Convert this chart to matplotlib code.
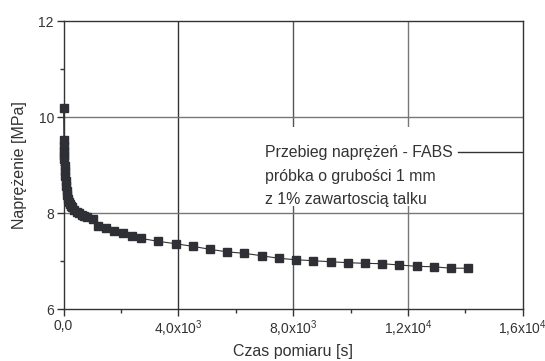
import matplotlib
matplotlib.use('Agg')
import matplotlib.pyplot as plt
from matplotlib.patches import Rectangle
from matplotlib.ticker import MultipleLocator

plt.rcParams['font.family'] = ['Liberation Sans', 'DejaVu Sans']
plt.rcParams['mathtext.fontset'] = 'custom'
plt.rcParams['mathtext.rm'] = 'Liberation Sans'
plt.rcParams['mathtext.default'] = 'regular'

# czas pomiaru [s] i naprezenie [MPa]
czas = [0, 10, 15, 20, 25, 30, 40, 50, 60, 75, 90, 110, 130, 155, 180,
        210, 245, 280, 370, 460, 545, 630, 720, 805, 1010, 1190, 1470,
        1770, 2080, 2390, 2700, 3300, 3900, 4500, 5100, 5700, 6300, 6900,
        7500, 8100, 8700, 9300, 9900, 10500, 11100, 11700, 12300, 12900,
        13500, 14100]
naprezenie = [10.18, 9.52, 9.40, 9.30, 9.20, 9.12, 8.98, 8.87, 8.78, 8.66,
              8.56, 8.46, 8.38, 8.30, 8.23, 8.18, 8.15, 8.12, 8.07, 8.03,
              7.99, 7.96, 7.94, 7.92, 7.87, 7.735, 7.69, 7.63, 7.58, 7.53,
              7.47, 7.41, 7.36, 7.306, 7.244, 7.19, 7.16, 7.11, 7.056, 7.027,
              7.006, 6.985, 6.965, 6.952, 6.944, 6.917, 6.89, 6.88, 6.85,
              6.85]

x_ticks = [0, 4000, 8000, 12000, 16000]
x_labels = ['0,0', r'4,0x$10^{3}$', r'8,0x$10^{3}$', r'1,2x$10^{4}$',
            r'1,6x$10^{4}$']
y_ticks = [6, 8, 10, 12]
opis = ['Przebieg naprężeń - FABS', 'próbka o grubości 1 mm',
        'z 1% zawartoscią talku']

fig = plt.figure(figsize=(5.45, 3.61), dpi=100)
ax = fig.add_axes([0.1167, 0.144, 0.8426, 0.7978])

txt = '#333333'
for xv, c in zip([4000, 8000, 12000], ['#333333', '#555555', '#777777']):
    ax.axvline(xv, color=c, lw=1.0, zorder=1)
for yv in [8, 10]:
    ax.axhline(yv, color='#777777', lw=1.0, zorder=1)

# biale tlo pod opisem
ax.add_patch(Rectangle((6750, 8.15), 9250, 1.64, facecolor='white',
                       edgecolor='none', zorder=2))

ax.plot(czas, naprezenie, color='#333333', lw=0.8, marker='s', ms=5.3,
        mfc='#2f2f36', mec='#2f2f36', zorder=4, clip_on=False)

ax.set_xlim(0, 16000)
ax.set_ylim(6, 12)
ax.set_xticks(x_ticks)
ax.set_xticklabels(x_labels)
ax.set_yticks(y_ticks)
ax.xaxis.set_minor_locator(MultipleLocator(2000))
ax.yaxis.set_minor_locator(MultipleLocator(1))
ax.tick_params(which='major', direction='out', length=5, width=1,
               colors='#333333', labelsize=10, pad=2)
ax.tick_params(which='minor', direction='out', length=3, width=1,
               colors='#333333')
for sp in ax.spines.values():
    sp.set_color('#333333')
    sp.set_linewidth(1.0)

ax.set_xlabel('Czas pomiaru [s]', fontsize=11.5, color=txt, labelpad=3)
ax.set_ylabel('Naprężenie [MPa]', fontsize=11.5, color=txt, labelpad=8)

ax.text(7020, 9.27, opis[0], fontsize=11.4, color=txt, ha='left',
        va='center', zorder=5)
ax.plot([13750, 16000], [9.27, 9.27], color='#333333', lw=1.0, zorder=5)
ax.text(7020, 8.77, opis[1], fontsize=11.4, color=txt, ha='left',
        va='center', zorder=5)
ax.text(7020, 8.29, opis[2], fontsize=11.4, color=txt, ha='left',
        va='center', zorder=5)

fig.savefig('out.png', dpi=100)
